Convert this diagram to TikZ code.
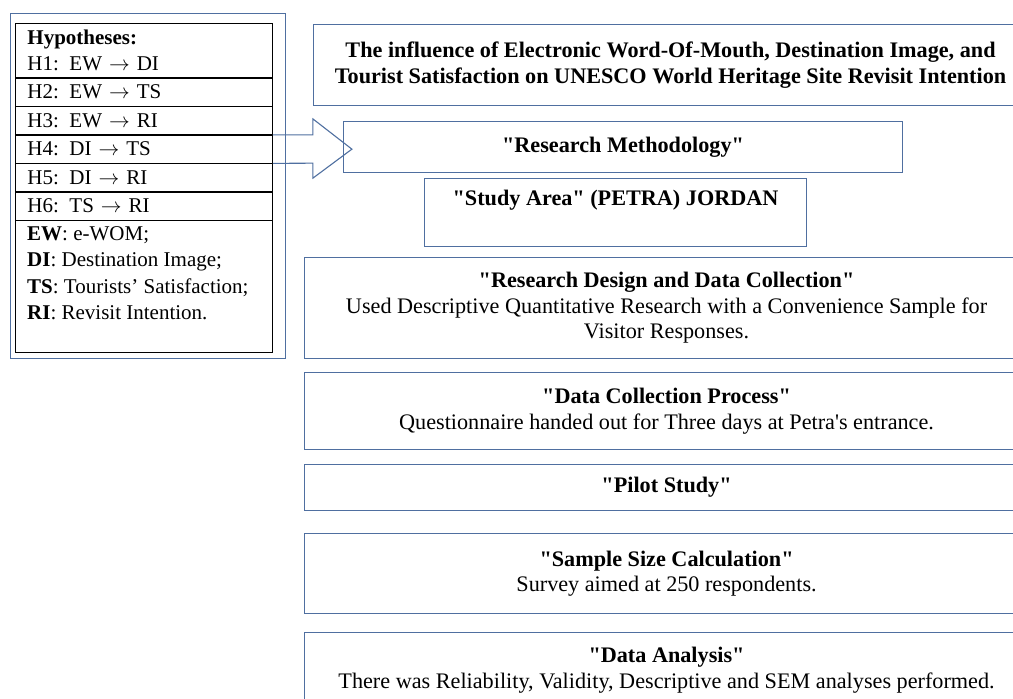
\documentclass[tikz,border=0pt]{standalone}
\usepackage{fontspec}
\setmainfont{Liberation Serif}[Ligatures=TeXOff]
\usetikzlibrary{positioning}

\definecolor{boxblue}{HTML}{4F6FA0}
\newcommand{\bodyfont}{\fontsize{21}{25.5}\selectfont}
\newcommand{\rightfont}{\fontsize{22.2}{25.5}\selectfont}
\newcommand{\imp}{\ensuremath{\rightarrow}}

\tikzset{
	every node/.style={font=\bodyfont},
	frame/.style={draw=boxblue, line width=1.1pt, anchor=north west, inner sep=0pt},
	hrow/.style={draw=black, line width=0.9pt, text width=233pt, inner xsep=12pt, inner ysep=0pt, minimum height=27.6pt, align=left},
	rbox/.style={draw=boxblue, line width=1.1pt, anchor=north west, inner sep=0pt, align=center, font=\rightfont},
	blockarrow/.style={draw=boxblue, line width=1.1pt, line join=miter}
}

\begin{document}
\begin{tikzpicture}[x=1pt, y=-1pt]
	\useasboundingbox (0,0) rectangle (1013,699);
	\clip (0,0) rectangle (1013,699);
	\node[frame, minimum width=275pt, minimum height=345pt] (frame) at (10,13) {};
	\node[hrow, anchor=north west, minimum height=54pt] (hyp) at (15,23) {\textbf{Hypotheses:}\\H1: EW \imp{} DI};
	\foreach \hid/\hx/\hy [count=\n from 2, remember=\hid as \hprev (initially hyp)] in {
		h2/EW/TS, h3/EW/RI, h4/DI/TS, h5/DI/RI, h6/TS/RI}
	\node[hrow, below=0pt of \hprev] (\hid) {H\n: \hx{} \imp{} \hy};
	\node[hrow, below=0pt of h6, minimum height=132pt] (legend) {};
	\node[anchor=north west, align=left, inner sep=0pt, font=\fontsize{21}{26.3}\selectfont] (legendtxt)
		at ([xshift=12pt, yshift=-6pt]legend.north west)
		{\textbf{EW}: e-WOM;\\\textbf{DI}: Destination Image;\\\textbf{TS}: Tourists’ Satisfaction;\\\textbf{RI}: Revisit Intention.};
	\node[rbox, minimum width=714pt, minimum height=81pt, font=\rightfont\bfseries] (title) at (313,24)
		{The influence of Electronic Word-Of-Mouth, Destination Image, and\\Tourist Satisfaction on UNESCO World Heritage Site Revisit Intention};
	\node[rbox, minimum width=559pt, minimum height=51pt, font=\rightfont\bfseries] (method) at (343,121) {"Research Methodology"};
	\node[rbox, minimum width=382pt, minimum height=68pt] (study) at (424,178) {};
	\node[font=\rightfont\bfseries, inner sep=0pt] (studytxt) at ([yshift=-22pt]study.north) {"Study Area" (PETRA) JORDAN};
	\node[rbox, minimum width=724pt, minimum height=101pt] (design) at (304,257)
		{\textbf{"Research Design and Data Collection"}\\Used Descriptive Quantitative Research with a Convenience Sample for\\Visitor Responses.};
	\node[rbox, minimum width=724pt, minimum height=77pt] (collect) at (304,372)
		{\textbf{"Data Collection Process"}\\Questionnaire handed out for Three days at Petra's entrance.};
	\node[rbox, minimum width=724pt, minimum height=46pt] (pilot) at (304,464) {\textbf{"Pilot Study"}};
	\node[rbox, minimum width=724pt, minimum height=80pt] (sample) at (304,533)
		{\textbf{"Sample Size Calculation"}\\Survey aimed at 250 respondents.};
	\node[rbox, minimum width=724pt, minimum height=75pt] (analysis) at (304,632)
		{\textbf{"Data Analysis"}\\There was Reliability, Validity, Descriptive and SEM analyses performed.};
	\coordinate (tip) at ([xshift=79pt]h4.east);
	\draw[blockarrow] (h4.north east) -- ++(40,0) -- ++(0,-16) -- (tip) -- ++(-39,29) -- ++(0,-15) -- (h4.south east);
\end{tikzpicture}
\end{document}
